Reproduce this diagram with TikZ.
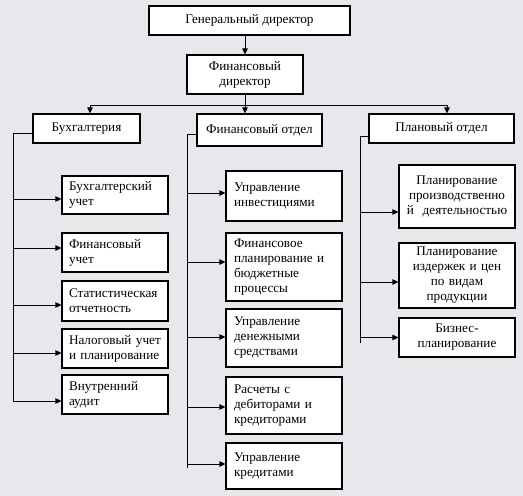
\documentclass[tikz,border=0pt]{standalone}
\usepackage{fontspec}
\setmainfont{Liberation Serif}
\usepackage{xcolor}
\usetikzlibrary{arrows.meta}
\definecolor{bgpanel}{HTML}{E9E7EC}

\begin{document}
\begin{tikzpicture}[x=1pt, y=-1pt,
  head/.style={rectangle, draw=black, line width=1.1pt, fill=white,
             align=center, inner sep=2pt, font=\fontsize{13.2}{15}\selectfont},
  lbox/.style={rectangle, draw=black, line width=1.1pt, fill=white,
             align=left, text width=92pt, inner xsep=7pt, inner ysep=2pt,
             font=\fontsize{13.2}{15}\selectfont},
  mbox/.style={lbox, text width=100pt, inner xsep=8pt},
  rbox/.style={lbox, text width=106pt, inner xsep=5pt, align=center},
  line/.style={line width=0.8pt, black},
  arr/.style={-{Triangle[length=6pt,width=5.5pt]}, line width=0.8pt, black},
]
\fill[bgpanel] (0,0) rectangle (523,496);

\node[head, minimum width=201pt, minimum height=29pt] (gen)  at (249.5,20.5) {Генеральный директор};
\node[head, minimum width=116pt, minimum height=39pt] (fdir) at (245,74.5)   {Финансовый\\директор};

\node[head, minimum width=107pt, minimum height=29pt] (buh)  at (86.5,128.5)  {Бухгалтерия};
\node[head, minimum width=125pt, minimum height=32pt] (fin)  at (259.5,130)   {Финансовый отдел};
\node[head, minimum width=145pt, minimum height=29pt] (plan) at (441.5,128.5) {Плановый отдел};

\node[lbox, minimum height=38pt] (acc)   at (115,195)   {Бухгалтерский\\учет};
\node[lbox, minimum height=39pt] (facc)  at (115,252.5) {Финансовый\\учет};
\node[lbox, minimum height=40pt] (stat)  at (115,301)   {Статистическая\\отчетность};
\node[lbox, minimum height=39pt] (tax)   at (115,348.5) {Налоговый учет\\и планирование};
\node[lbox, minimum height=39pt] (audit) at (115,394.5) {Внутренний\\аудит};

\node[mbox, minimum height=50pt] (inv)    at (284,196)   {Управление\\инвестициями};
\node[mbox, minimum height=68pt] (budget) at (284,267)   {Финансовое\\планирование и\\бюджетные\\процессы};
\node[mbox, minimum height=58pt] (cash)   at (284,338)   {Управление\\денежными\\средствами};
\node[mbox, minimum height=57pt] (debt)   at (284,405.5) {Расчеты с\\дебиторами и\\кредиторами};
\node[mbox, minimum height=46pt] (credit) at (284,466)   {Управление\\кредитами};

\node[rbox, minimum height=63pt] (prod) at (457,196.5) {Планирование\\производственно\\й\ \ деятельностью};
\node[rbox, minimum height=65pt] (cost) at (457,275.5) {Планирование\\издержек и цен\\по видам\\продукции};
\node[rbox, minimum height=39pt] (biz)  at (457,337.5) {Бизнес-\\планирование};

\coordinate (bus) at (245,105);
\draw[arr] (fdir |- gen.south) -- (fdir.north);
\draw[line] (fdir.south) -- (bus);
\draw[arr] (bus) -- (bus |- fin.north);
\draw[arr] (bus) -| ([xshift=3.5pt]buh.north);
\draw[arr] (bus) -| ([xshift=5.5pt]plan.north);

\foreach \n/\d in {acc/-4, facc/4.5, stat/-4, tax/-4.5, audit/-6.5,
                   inv/3, budget/5, cash/1, debt/-1.5, credit/2,
                   prod/-15.5, cost/-6.5, biz/0}
  \coordinate (\n-in) at ([yshift=\d pt]\n.west);
\coordinate (credit-end) at ([yshift=-2pt]credit.west);
\coordinate (biz-end)    at ([yshift=-5.5pt]biz.west);

\draw[line] ([yshift=-4.5pt]buh.west) -- ++(-19,0) coordinate (bspine) -- (bspine |- audit-in);
\foreach \n in {acc, facc, stat, tax, audit}
  \draw[arr] (bspine |- \n-in) -- (\n-in);

\draw[line] ([yshift=-4pt]fin.west) -- ++(-9,0) coordinate (fspine) -- (fspine |- credit-end);
\foreach \n in {inv, budget, cash, debt, credit}
  \draw[arr] (fspine |- \n-in) -- (\n-in);

\draw[line] ([yshift=-7.5pt]plan.west) -- ++(-8,0) coordinate (pspine) -- (pspine |- biz-end);
\foreach \n in {prod, cost, biz}
  \draw[arr] (pspine |- \n-in) -- (\n-in);
\end{tikzpicture}
\end{document}
